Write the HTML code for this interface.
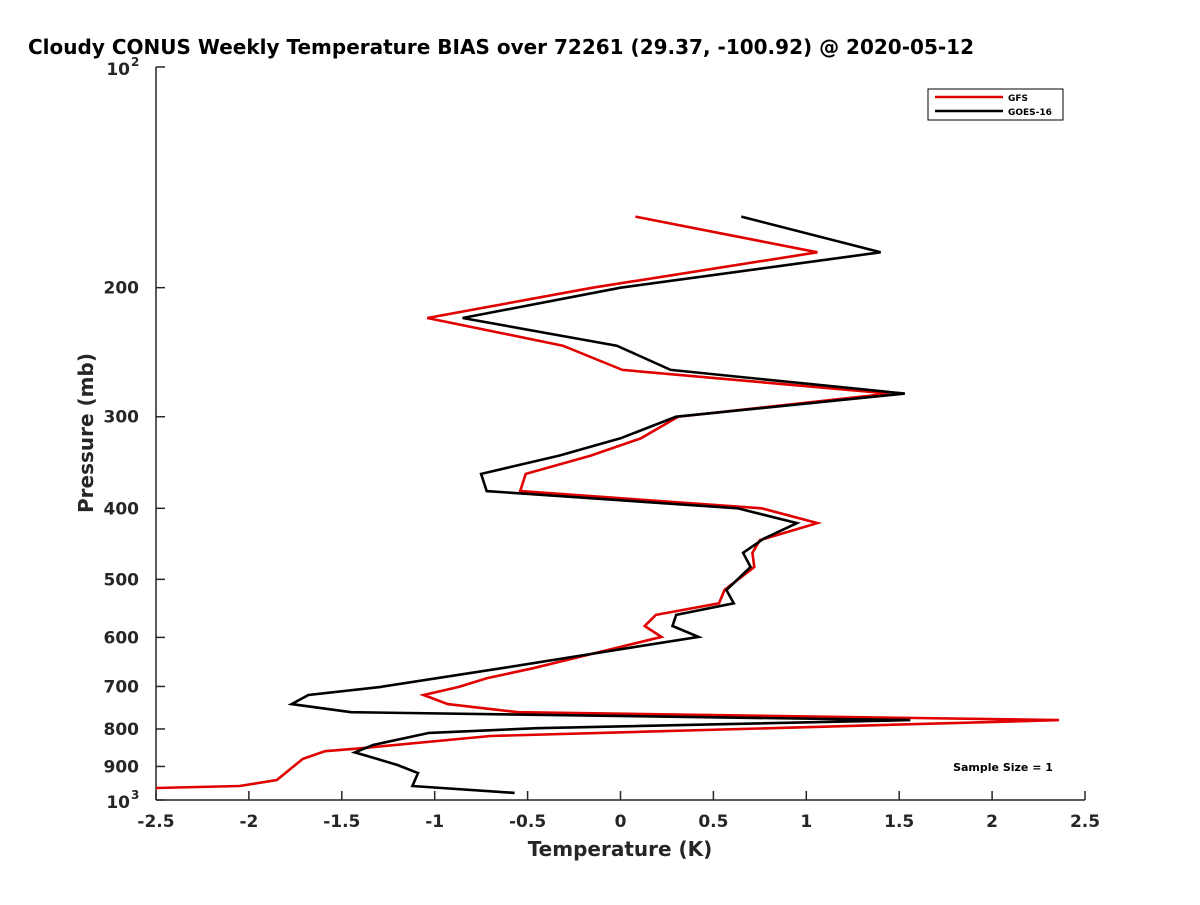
<!DOCTYPE html>
<html><head><meta charset="utf-8"><style>
body{margin:0;background:#fff;}
svg text{font-family:"DejaVu Sans","Liberation Sans",sans-serif;font-weight:bold;fill:#262626;}
</style></head><body>
<svg id="chart" width="1200" height="900" viewBox="0 0 1200 900" xmlns="http://www.w3.org/2000/svg">
<rect width="1200" height="900" fill="#fff"/>
<text x="28" y="54" font-size="20" style="fill:#000">Cloudy CONUS Weekly Temperature BIAS over 72261 (29.37, -100.92) @ 2020-05-12</text>
<g id="axes"></g>
<g id="series"></g>
<text x="620" y="856" font-size="20" text-anchor="middle">Temperature (K)</text>
<text transform="translate(93,433) rotate(-90)" font-size="20" text-anchor="middle">Pressure (mb)</text>
<g>
<rect x="928" y="89" width="135" height="31" fill="#fff" stroke="#000" stroke-width="1"/>
<line x1="935" y1="97" x2="1003" y2="97" stroke="#e00000" stroke-width="2.5"/>
<text x="1008" y="101" font-size="9" style="fill:#000">GFS</text>
<line x1="935" y1="111" x2="1003" y2="111" stroke="#000" stroke-width="2.5"/>
<text x="1008" y="115" font-size="9" style="fill:#000">GOES-16</text>
</g>
<text x="1003" y="771" font-size="11" text-anchor="middle" style="fill:#000">Sample Size = 1</text>
</svg>
<script>
const xTicks=[-2.5,-2,-1.5,-1,-0.5,0,0.5,1,1.5,2,2.5];
const xTickLabels=["-2.5","-2","-1.5","-1","-0.5","0","0.5","1","1.5","2","2.5"];
const yTicks=[200,300,400,500,600,700,800,900];
const yTickLabels=["200","300","400","500","600","700","800","900"];
const gfsX=[0.08,1.06,-0.15,-1.04,-0.31,0.01,1.45,0.31,0.11,-0.16,-0.51,-0.54,0.76,1.06,0.75,0.71,0.72,0.56,0.53,0.19,0.13,0.22,-0.22,-0.47,-0.72,-0.87,-1.06,-0.93,-0.55,2.36,-0.70,-1.40,-1.59,-1.71,-1.85,-2.05,-2.50];
const gfsP=[160,179,200,220,240,259,279,300,321,339,359,379,400,419,442,460,481,517,539,559,579,599,638,661,682,701,719,740,759,778,818,850,858,879,939,957,963];
const goesX=[0.65,1.40,0.0,-0.85,-0.02,0.27,1.53,0.30,0.0,-0.33,-0.75,-0.72,0.63,0.95,0.77,0.66,0.70,0.57,0.61,0.30,0.28,0.42,-0.64,-1.29,-1.68,-1.77,-1.45,1.56,-0.45,-1.03,-1.33,-1.43,-1.31,-1.20,-1.09,-1.12,-0.57];
const goesP=[160,179,200,220,240,259,279,300,321,339,359,379,400,419,440,460,481,517,539,559,579,599,661,701,719,740,759,778,798,810,841,861,879,896,919,957,978];
const L=156,R=1085,T=67,B=800;
function sx(v){return L+(v+2.5)/5*(R-L);}
function sy(p){return T+Math.log10(p/100)*(B-T);}
const NS="http://www.w3.org/2000/svg";
function mk(tag,attrs,parent){const e=document.createElementNS(NS,tag);for(const k in attrs)e.setAttribute(k,attrs[k]);parent.appendChild(e);return e;}
const ax=document.getElementById('axes');
let a=mk('line',{x1:L,y1:B,x2:R,y2:B,stroke:'#262626','stroke-width':1.5},ax);


a=mk('line',{x1:L,y1:T,x2:L,y2:B,stroke:'#262626','stroke-width':1.5},ax);


xTicks.forEach((v,i)=>{
  const x=sx(v);
  const t=mk('line',{x1:x,y1:B,x2:x,y2:B-9,stroke:'#262626','stroke-width':1.5},ax);
  
  
  const tx=mk('text',{x:x,y:B+27,'font-size':17,'text-anchor':'middle'},ax);
  tx.textContent=xTickLabels[i];
  
  
});
yTicks.forEach((p,i)=>{
  const y=sy(p);
  const t=mk('line',{x1:L,y1:y,x2:L+9,y2:y,stroke:'#262626','stroke-width':1.5},ax);
  
  
  const tx=mk('text',{x:L-17,y:y+6,'font-size':17,'text-anchor':'end'},ax);
  tx.textContent=yTickLabels[i];
  
  
});
[[100,"2"],[1000,"3"]].forEach(([p,e])=>{
  const y=sy(p);
  const t=mk('line',{x1:L,y1:y,x2:L+9,y2:y,stroke:'#262626','stroke-width':1.5},ax);
  
  
  const tx=mk('text',{x:L-26,y:y+8,'font-size':17,'text-anchor':'end'},ax);
  tx.textContent="10";
  
  
  const sp=mk('text',{x:L-25,y:y-1,'font-size':12},ax);
  sp.textContent=e;
  
  
});
const sg=document.getElementById('series');
function line(xs,ps,color,name){
  const pts=xs.map((v,i)=>sx(v).toFixed(1)+','+sy(ps[i]).toFixed(1)).join(' ');
  const pl=mk('polyline',{points:pts,fill:'none',stroke:color,'stroke-width':2.6,'stroke-linejoin':'miter'},sg);
  
  
}
line(gfsX,gfsP,'#e00000','gfs-line');
line(goesX,goesP,'#000000','goes16-line');
</script>
</body></html>
